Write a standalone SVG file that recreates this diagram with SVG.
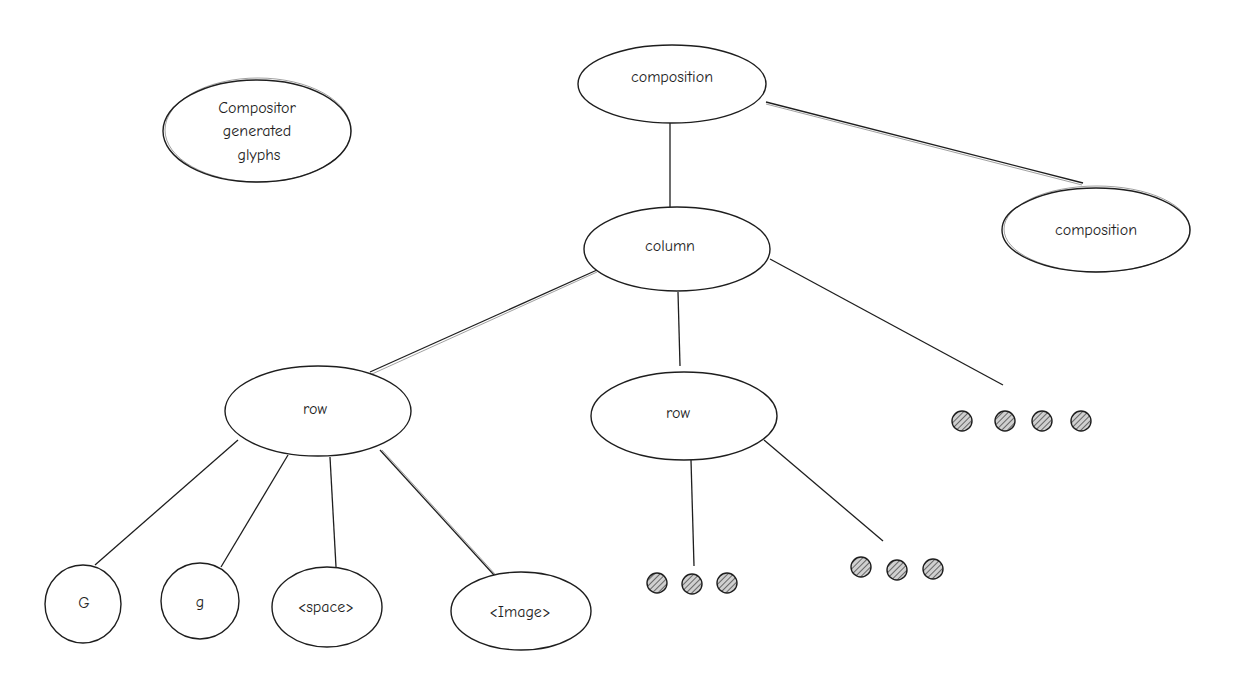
<svg xmlns="http://www.w3.org/2000/svg" width="1241" height="679" viewBox="0 0 1241 679">
<style>
.n{fill:#fff;stroke:#1e1e1e;stroke-width:1.4}
.n2{fill:none;stroke:#1e1e1e;stroke-width:0.7;opacity:0.6}
.c{stroke:#1e1e1e;stroke-width:1.3;fill:none}
.c2{stroke:#1e1e1e;stroke-width:0.6;fill:none;opacity:0.7}
.t{font-family:"Comic Neue","Liberation Sans",sans-serif;font-size:16px;fill:#1e1e1e;text-anchor:middle;dominant-baseline:central}
.d{fill:url(#hatch);stroke:#1e1e1e;stroke-width:1.4}
</style>
<defs>
<pattern id="hatch" width="4" height="4" patternUnits="userSpaceOnUse" patternTransform="rotate(45)">
<rect width="4" height="4" fill="#d0d0d0"/>
<line x1="0" y1="0" x2="0" y2="4" stroke="#1e1e1e" stroke-width="1.2"/>
</pattern>
</defs>
<rect width="1241" height="679" fill="#fff"/>
<g id="connectors">
<path class="c" d="M670 123 L670 207"/>
<path class="c" d="M766 102 L1083 183"/>
<path class="c2" d="M766 104 L1082 185"/>
<path class="c" d="M597 270 L370 372"/>
<path class="c2" d="M597 272 L372 374"/>
<path class="c" d="M678 292 L680 366"/>
<path class="c" d="M770 259 L1003 385"/>
<path class="c" d="M238 440 L95 565"/>
<path class="c" d="M288 455 L221 567"/>
<path class="c" d="M330 457 L336 567"/>
<path class="c" d="M380 450 L494 575"/>
<path class="c2" d="M382 450 L495 574"/>
<path class="c" d="M691 460 L694 566"/>
<path class="c" d="M764 440 L883 541"/>
</g>
<g id="n-glyphs"><ellipse class="n" cx="257" cy="131" rx="94" ry="51"/><ellipse class="n2" cx="258" cy="130" rx="93" ry="52"/>
<text class="t" x="257" y="108">Compositor</text><text class="t" x="257" y="131">generated</text><text class="t" x="259" y="155">glyphs</text></g>
<g id="n-comp1"><ellipse class="n" cx="672" cy="84" rx="94" ry="39"/><text class="t" x="672" y="77">composition</text></g>
<g id="n-comp2"><ellipse class="n" cx="1096" cy="230" rx="94" ry="42"/><ellipse class="n2" cx="1097" cy="229" rx="93" ry="43"/><text class="t" x="1096" y="230">composition</text></g>
<g id="n-column"><ellipse class="n" cx="677" cy="249" rx="93" ry="42"/><text class="t" x="670" y="246">column</text></g>
<g id="n-row1"><ellipse class="n" cx="318" cy="411" rx="93" ry="45"/><text class="t" x="315" y="409">row</text></g>
<g id="n-row2"><ellipse class="n" cx="684" cy="416" rx="93" ry="44"/><text class="t" x="678" y="413">row</text></g>
<g id="n-G"><ellipse class="n" cx="83" cy="604" rx="38" ry="39"/><text class="t" x="84" y="603">G</text></g>
<g id="n-g"><ellipse class="n" cx="200" cy="601" rx="39" ry="38"/><text class="t" x="200" y="602">g</text></g>
<g id="n-space"><ellipse class="n" cx="327" cy="607" rx="55" ry="40"/><text class="t" x="326" y="607">&lt;space&gt;</text></g>
<g id="n-image"><ellipse class="n" cx="521" cy="611" rx="70" ry="39"/><text class="t" x="520" y="612">&lt;Image&gt;</text></g>
<g id="dots-a">
<circle class="d" cx="962" cy="421" r="10"/><circle class="d" cx="1005" cy="421" r="10"/><circle class="d" cx="1042" cy="421" r="10"/><circle class="d" cx="1081" cy="421" r="10"/>
</g>
<g id="dots-b">
<circle class="d" cx="657" cy="583" r="10"/><circle class="d" cx="692" cy="584" r="10"/><circle class="d" cx="727" cy="583" r="10"/>
</g>
<g id="dots-c">
<circle class="d" cx="861" cy="567" r="10"/><circle class="d" cx="897" cy="570" r="10"/><circle class="d" cx="933" cy="569" r="10"/>
</g>
</svg>
